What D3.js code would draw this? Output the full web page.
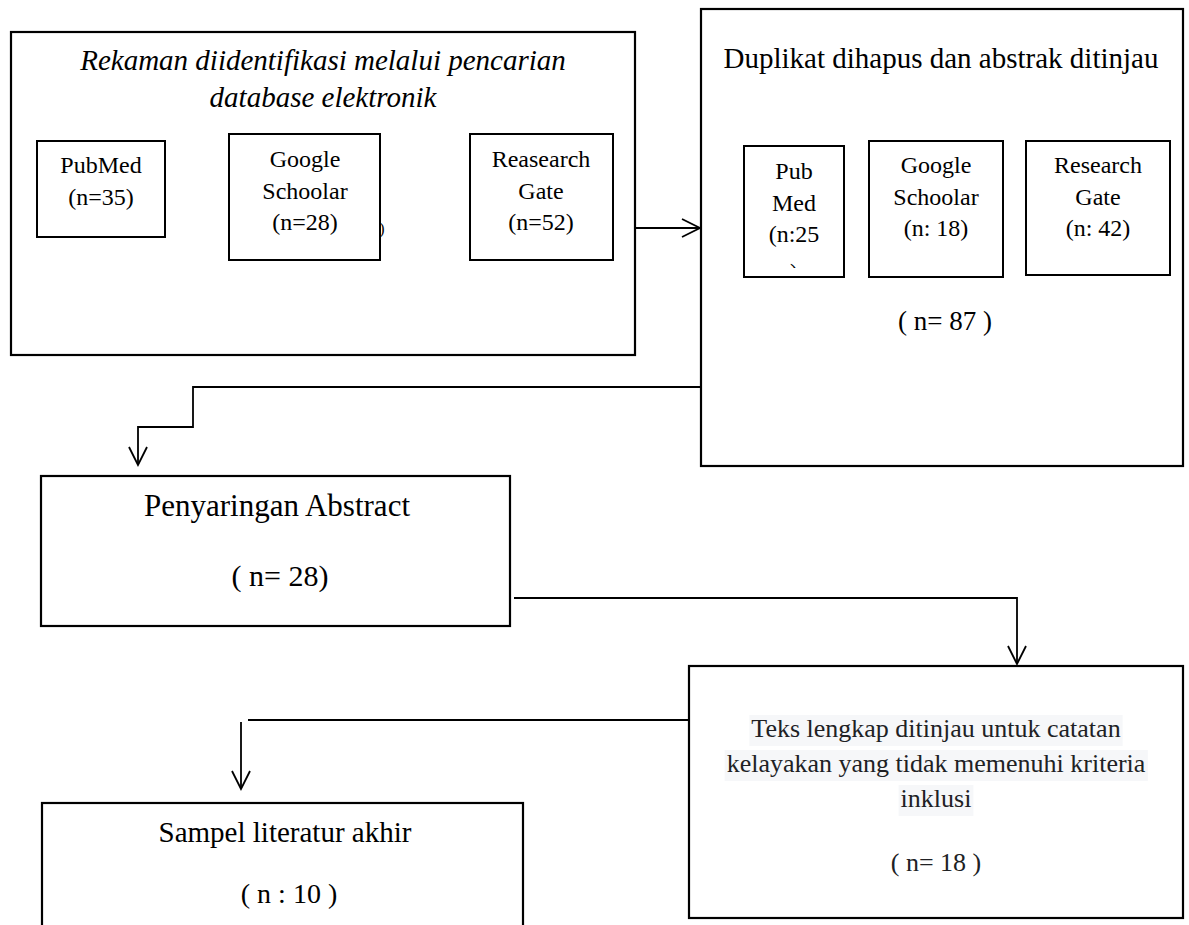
<!DOCTYPE html>
<html>
<head>
<meta charset="utf-8">
<script src="https://cdn.jsdelivr.net/npm/d3@7"></script>
<style>
  body { margin: 0; background: #fff; }
  svg { display: block; }
  text { font-family: "Liberation Serif", "Times New Roman", serif; fill: #000; }
</style>
</head>
<body>
<svg id="chart" width="1189" height="925"></svg>
<script>
// flow content
const identifiedTitle = ["Rekaman diidentifikasi melalui pencarian", "database elektronik"];
const identifiedSources = [["PubMed"], ["Google", "Schoolar"], ["Reasearch", "Gate"]];
const identifiedCounts = ["(n=35)", "(n=28)", "(n=52)"];

const dedupTitle = "Duplikat dihapus dan abstrak ditinjau";
const dedupSources = [["Pub", "Med"], ["Google", "Schoolar"], ["Research", "Gate"]];
const dedupCounts = ["(n:25", "(n: 18)", "(n: 42)"];
const dedupTotal = "( n= 87 )";

const screenTitle = "Penyaringan Abstract";
const screenCount = "( n= 28)";
const fullTextLines = ["Teks lengkap ditinjau untuk catatan", "kelayakan yang tidak memenuhi kriteria", "inklusi"];
const fullTextCount = "( n= 18 )";
const finalTitle = "Sampel literatur akhir";
const finalCount = "( n : 10 )";

const svg = d3.select("#chart");

// layout
const box1 = { x: 11, y: 32, w: 624, h: 323 };
const sub1 = [
  { x: 37, y: 141, w: 128, h: 96, cx: 101, y0: 173 },
  { x: 229, y: 134, w: 151, h: 126, cx: 305, y0: 167 },
  { x: 470, y: 134, w: 143, h: 126, cx: 541, y0: 167 }
];
const box2 = { x: 701, y: 9, w: 482, h: 457 };
const sub2 = [
  { x: 744, y: 146, w: 100, h: 131, cx: 794, y0: 179 },
  { x: 869, y: 141, w: 134, h: 136, cx: 936, y0: 173 },
  { x: 1026, y: 141, w: 144, h: 134, cx: 1098, y0: 173 }
];
const box3 = { x: 41, y: 476, w: 469, h: 150 };
const box4 = { x: 689, y: 666, w: 494, h: 252 };
const box5 = { x: 42, y: 803, w: 481, h: 160 };

const drawBox = (b, sw) =>
  svg.append("rect")
    .attr("x", b.x).attr("y", b.y)
    .attr("width", b.w).attr("height", b.h)
    .attr("fill", "none").attr("stroke", "#000")
    .attr("stroke-width", sw);

const drawText = (str, x, y, size, italic) =>
  svg.append("text")
    .attr("x", x).attr("y", y)
    .attr("text-anchor", "middle")
    .style("font-size", size + "px")
    .style("font-style", italic ? "italic" : "normal")
    .text(str);

// big boxes
[box1, box2, box3, box4, box5].forEach((b) => drawBox(b, 2.2));

// box 1: identification
identifiedTitle.forEach((t, i) => drawText(t, 323, 70 + i * 37, 29, true));
sub1.forEach((b, i) => {
  drawBox(b, 2);
  const lines = identifiedSources[i].concat([identifiedCounts[i]]);
  lines.forEach((t, j) => drawText(t, b.cx, b.y0 + j * 31.5, 24));
});
// stray bracket next to the Google box
drawText(")", 382, 234, 16);

// box 2: duplicates removed
drawText(dedupTitle, 941, 68, 29);
svg.append("clipPath").attr("id", "pubclip")
  .append("rect").attr("x", 744).attr("y", 146).attr("width", 100).attr("height", 122);
sub2.forEach((b, i) => {
  drawBox(b, 2);
  const lines = dedupSources[i].concat([dedupCounts[i]]);
  lines.forEach((t, j) => drawText(t, b.cx, b.y0 + j * 31.5, 24));
});
// the wrapped closing bracket, cut off by the box
drawText(")", 794, 280, 24).attr("clip-path", "url(#pubclip)");
drawText(dedupTotal, 945, 330, 27);

// box 3: screening
drawText(screenTitle, 277, 516, 31);
drawText(screenCount, 280, 586, 30);

// box 4: full text, with light highlight behind lines
const hl = svg.append("g");
fullTextLines.forEach((t, i) => {
  const node = drawText(t, 936, 737 + i * 35, 26).style("fill", "#202124");
  const bb = node.node().getBBox();
  hl.append("rect")
    .attr("x", bb.x - 2).attr("y", bb.y + 1)
    .attr("width", bb.width + 4).attr("height", bb.height + 2)
    .attr("fill", "#f6f7f9");
});
drawText(fullTextCount, 936, 871, 26).style("fill", "#202124");

// box 5: final
drawText(finalTitle, 285, 842, 29);
drawText(finalCount, 289, 903, 28);

// connectors
const connectors = [
  { pts: [[636, 228], [700, 228]], arrow: true },
  { pts: [[701, 387], [193, 387], [193, 427], [138, 427], [138, 465]], arrow: true },
  { pts: [[514, 598], [1017, 598], [1017, 664]], arrow: true },
  { pts: [[689, 720], [248, 720]], arrow: false },
  { pts: [[241, 722], [241, 789]], arrow: true }
];
const line = d3.line();
connectors.forEach((c) => {
  svg.append("path")
    .attr("d", line(c.pts))
    .attr("fill", "none").attr("stroke", "#000").attr("stroke-width", 1.8);
  if (c.arrow) {
    const [x1, y1] = c.pts[c.pts.length - 2];
    const [x2, y2] = c.pts[c.pts.length - 1];
    const a = Math.atan2(y2 - y1, x2 - x1);
    const len = 18, half = 9;
    const back = [x2 - len * Math.cos(a), y2 - len * Math.sin(a)];
    const nx = -Math.sin(a) * half, ny = Math.cos(a) * half;
    svg.append("path")
      .attr("d", line([[back[0] + nx, back[1] + ny], [x2, y2], [back[0] - nx, back[1] - ny]]))
      .attr("fill", "none").attr("stroke", "#000").attr("stroke-width", 1.8);
  }
});
</script>
</body>
</html>
